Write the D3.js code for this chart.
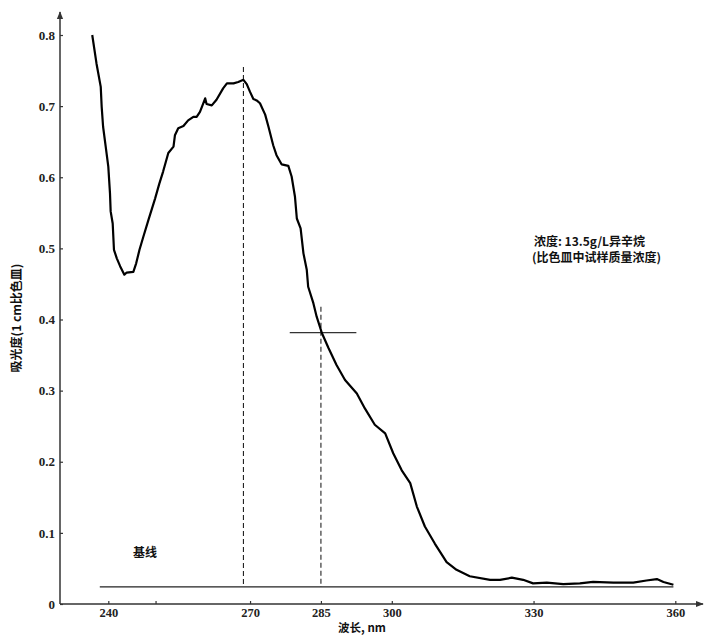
<!DOCTYPE html>
<html>
<head>
<meta charset="utf-8">
<script src="https://cdn.jsdelivr.net/npm/d3@7"></script>
<style>
body { margin: 0; background: #fff; }
.cjk { font-family: "Noto Sans CJK SC", sans-serif; font-weight: bold; font-size: 12px; fill: #111; }
</style>
</head>
<body>
<svg id="chart" width="707" height="636"></svg>
<script>
// absorption spectrum (nm, absorbance)
var wavelength = [236.6, 237.5, 238.4, 238.6, 238.9, 239.45, 240.0, 240.36, 240.5, 240.93, 241.2, 241.8, 242.5, 243.4, 243.9, 245.3, 245.9, 246.6, 247.4, 248.5, 249.9, 250.8, 251.6, 252.7, 253.8, 254.1, 254.8, 255.9, 256.9, 258.0, 258.7, 259.4, 260.1, 260.5, 260.8, 261.9, 262.9, 264.3, 265.1, 266.5, 267.5, 268.6, 269.3, 270.0, 270.7, 271.4, 272.1, 273.2, 273.9, 274.9, 275.6, 276.7, 278.1, 278.8, 279.5, 279.9, 280.7, 281.3, 282.0, 282.3, 283.4, 284.1, 285.2, 286.6, 288.3, 290.1, 292.6, 294.3, 296.4, 298.6, 300.3, 302.1, 303.9, 305.3, 307.0, 309.1, 311.6, 313.7, 316.5, 320.8, 322.9, 325.4, 327.8, 329.9, 332.8, 336.3, 339.8, 342.6, 346.9, 351.1, 353.9, 356.1, 357.5, 359.6];
var absorb = [0.800, 0.760, 0.727, 0.699, 0.671, 0.643, 0.615, 0.577, 0.552, 0.535, 0.498, 0.486, 0.475, 0.463, 0.466, 0.467, 0.479, 0.498, 0.516, 0.540, 0.570, 0.591, 0.608, 0.634, 0.643, 0.659, 0.669, 0.672, 0.680, 0.685, 0.685, 0.692, 0.704, 0.711, 0.703, 0.701, 0.709, 0.725, 0.732, 0.732, 0.734, 0.737, 0.731, 0.720, 0.710, 0.708, 0.704, 0.688, 0.671, 0.645, 0.631, 0.618, 0.616, 0.601, 0.573, 0.542, 0.528, 0.493, 0.470, 0.446, 0.423, 0.404, 0.381, 0.360, 0.336, 0.315, 0.296, 0.275, 0.252, 0.240, 0.212, 0.188, 0.170, 0.137, 0.109, 0.085, 0.059, 0.048, 0.039, 0.034, 0.034, 0.037, 0.034, 0.029, 0.030, 0.028, 0.029, 0.031, 0.030, 0.030, 0.033, 0.035, 0.031, 0.027];

var xTicks = [240, 250, 270, 285, 300, 330, 360];
var xTickLabels = ["240", "", "270", "285", "300", "330", "360"];
var yTicks = [0, 0.1, 0.2, 0.3, 0.4, 0.5, 0.6, 0.7, 0.8];
var yTickLabels = ["0", "0.1", "0.2", "0.3", "0.4", "0.5", "0.6", "0.7", "0.8"];

var peakWl = 268.6, peakTop = 0.755;
var markWl = 285, markTop = 0.418, markA = 0.3816, markSpan = [278.4, 292.5];
var baseSpan = [238.2, 359.6], baseA = 0.024;

var svg = d3.select("#chart");
var x = d3.scaleLinear().domain([240, 360]).range([108.3, 675.3]);
var y = d3.scaleLinear().domain([0, 0.8]).range([604, 35]);
var x0 = 60, y0 = 604;

// arrow heads
var defs = svg.append("defs");
defs.append("marker").attr("id", "arr").attr("viewBox", "0 0 10 10")
    .attr("refX", 9).attr("refY", 5).attr("markerWidth", 8).attr("markerHeight", 8)
    .attr("markerUnits", "userSpaceOnUse").attr("orient", "auto")
    .append("path").attr("d", "M0,1L10,5L0,9Z").attr("fill", "#333");

svg.append("line").attr("x1", x0).attr("y1", y0).attr("x2", x0).attr("y2", 12)
    .attr("stroke", "#333").attr("stroke-width", 1.5).attr("marker-end", "url(#arr)");
svg.append("line").attr("x1", x0).attr("y1", y0).attr("x2", 703).attr("y2", y0)
    .attr("stroke", "#333").attr("stroke-width", 1.5).attr("marker-end", "url(#arr)");

var yAxis = d3.axisLeft(y).tickValues(yTicks)
    .tickFormat(function(d, i) { return yTickLabels[i]; })
    .tickSizeInner(-3).tickSizeOuter(0).tickPadding(5);
var gy = svg.append("g").attr("transform", "translate(" + x0 + ",0)").call(yAxis);
gy.select(".domain").remove();
gy.selectAll(".tick line").attr("stroke", "#333").attr("stroke-width", 1.2);
gy.selectAll(".tick text").attr("fill", "#222")
    .style("font-family", "'Liberation Serif', serif").style("font-size", "13px").style("font-weight", "bold");

var xAxis = d3.axisBottom(x).tickValues(xTicks)
    .tickFormat(function(d, i) { return xTickLabels[i]; })
    .tickSizeInner(-3).tickSizeOuter(0).tickPadding(4);
var gx = svg.append("g").attr("transform", "translate(0," + y0 + ")").call(xAxis);
gx.select(".domain").remove();
gx.selectAll(".tick line").attr("stroke", "#333").attr("stroke-width", 1.2);
gx.selectAll(".tick text").attr("fill", "#222")
    .style("font-family", "'Liberation Serif', serif").style("font-size", "12.5px").style("font-weight", "bold");

// baseline
svg.append("line").attr("x1", x(baseSpan[0])).attr("x2", x(baseSpan[1]))
    .attr("y1", y(baseA)).attr("y2", y(baseA))
    .attr("stroke", "#222").attr("stroke-width", 1.3);

// dashed markers
svg.append("line").attr("x1", x(peakWl)).attr("x2", x(peakWl))
    .attr("y1", y(peakTop)).attr("y2", y(baseA))
    .attr("stroke", "#222").attr("stroke-width", 1.1).attr("stroke-dasharray", "5,3");
svg.append("line").attr("x1", x(markWl)).attr("x2", x(markWl))
    .attr("y1", y(markTop)).attr("y2", y(baseA))
    .attr("stroke", "#222").attr("stroke-width", 1.1).attr("stroke-dasharray", "5,3");
svg.append("line").attr("x1", x(markSpan[0])).attr("x2", x(markSpan[1]))
    .attr("y1", y(markA)).attr("y2", y(markA))
    .attr("stroke", "#333").attr("stroke-width", 1.2);

// spectrum
var pts = wavelength.map(function(w, i) { return [w, absorb[i]]; });
var line = d3.line().x(function(d) { return x(d[0]); }).y(function(d) { return y(d[1]); });
svg.append("path").datum(pts).attr("d", line)
    .attr("fill", "none").attr("stroke", "#000").attr("stroke-width", 2.2)
    .attr("stroke-linejoin", "round");

// texts
svg.append("text").attr("class", "cjk").attr("transform", "translate(21,318) rotate(-90)")
    .attr("text-anchor", "middle").text("吸光度(1 cm比色皿)");
svg.append("text").attr("class", "cjk").attr("x", 362).attr("y", 632)
    .attr("text-anchor", "middle").style("font-size", "11.5px").text("波长, nm");
svg.append("text").attr("class", "cjk").attr("x", 534).attr("y", 246).text("浓度: 13.5g/L异辛烷");
svg.append("text").attr("class", "cjk").attr("x", 532).attr("y", 262).text("(比色皿中试样质量浓度)");
svg.append("text").attr("class", "cjk").attr("x", 133).attr("y", 557).text("基线");
</script>
</body>
</html>
